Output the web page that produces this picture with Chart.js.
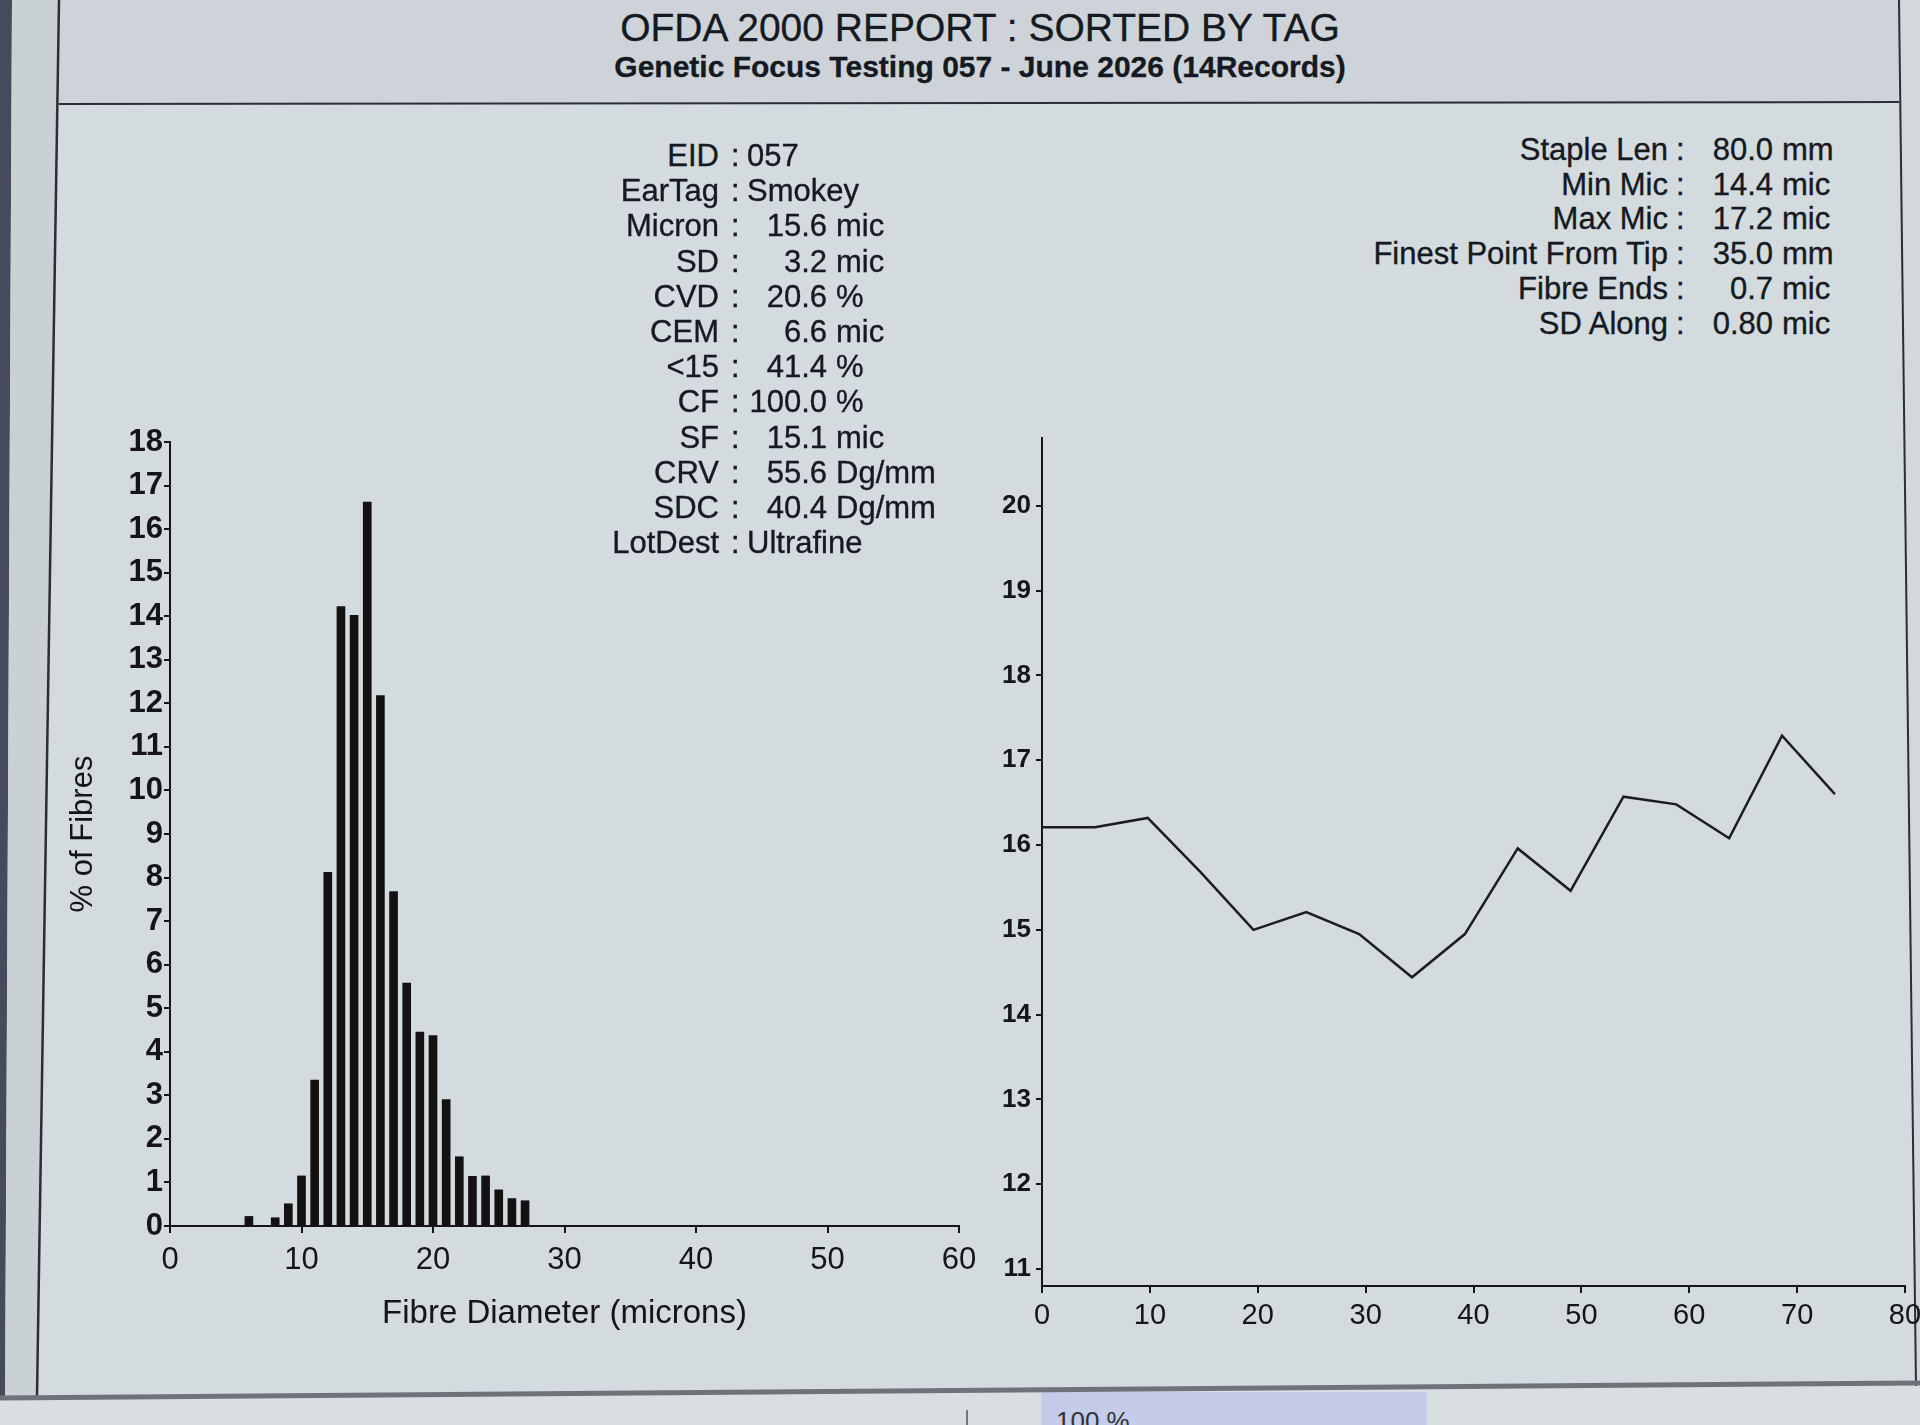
<!DOCTYPE html>
<html>
<head>
<meta charset="utf-8">
<title>OFDA 2000 Report</title>
<script src="https://cdn.jsdelivr.net/npm/chart.js@4.4.1/dist/chart.umd.min.js"></script>
<style>
    html, body { margin: 0; padding: 0; }
    body {
        width: 1920px;
        height: 1425px;
        overflow: hidden;
        position: relative;
        background: #d3dbdf;
        font-family: "Liberation Sans", Arial, sans-serif;
        color: #151920;
    }
    #frame { position: absolute; left: 0; top: 0; }
    canvas { position: absolute; }
    .title {
        position: absolute;
        left: 980px;
        transform: translateX(-50%);
        white-space: nowrap;
        line-height: 1;
        -webkit-text-stroke: 0.3px #151920;
    }
    .stat {
        position: absolute;
        font-size: 31px;
        line-height: 36px;
        height: 36px;
        white-space: nowrap;
        -webkit-text-stroke: 0.35px #151920;
    }
    .status { position: absolute; left: 1056px; top: 1406px; font-size: 26px; color: #333; }
</style>
</head>
<body>
<svg id="frame" width="1920" height="1425">
    <polygon points="59,0 1899,0 1898,103 59,104" fill="#cdd3d8"/>
    <polygon points="0,0 12,0 5,1425 0,1425" fill="#454b5d"/>
    <polygon points="12,0 59,0 37,1396 5,1397" fill="#cad1d5"/>
    <polygon points="1899,0 1920,0 1920,1384 1916,1384" fill="#d2d8dc"/>
    <polygon points="0,1398 1920,1383 1920,1425 0,1425" fill="#d9dee1"/>
    <rect x="1041" y="1392" width="386" height="33" fill="#c4cce9"/>
    <line x1="967" y1="1410" x2="967" y2="1425" stroke="#555" stroke-width="1.5"/>
    <line x1="59" y1="0" x2="37" y2="1396" stroke="#2a2e36" stroke-width="2.5"/>
    <line x1="1899" y1="0" x2="1916" y2="1386" stroke="#2a2e36" stroke-width="2"/>
    <line x1="59" y1="104" x2="1899" y2="102" stroke="#2a2e36" stroke-width="2"/>
    <line x1="0" y1="1398" x2="1920" y2="1383" stroke="#6e737b" stroke-width="5"/>
</svg>

<div class="title" style="top:8px; font-size:39px;">OFDA 2000 REPORT : SORTED BY TAG</div>
<div class="title" style="top:52px; font-size:30px; font-weight:bold;">Genetic Focus Testing 057 - June 2026 (14Records)</div>
<div class="status">100 %</div>

<canvas id="histChart" width="940" height="960" style="left:60px; top:400px;"></canvas>
<canvas id="profileChart" width="960" height="960" style="left:960px; top:400px;"></canvas>

<script>
// Histogram: % of fibres per micron class
const histMicrons = [6, 8, 9, 10, 11, 12, 13, 14, 15, 16, 17, 18, 19, 20, 21, 22, 23, 24, 25, 26, 27];
const histPercent = [0.22, 0.19, 0.51, 1.15, 3.35, 8.12, 14.22, 14.02, 16.62, 12.18, 7.68, 5.58, 4.45, 4.37, 2.90, 1.59, 1.14, 1.15, 0.83, 0.63, 0.58];
const histXTicks = [0, 10, 20, 30, 40, 50, 60];
const histYTicks = [0, 1, 2, 3, 4, 5, 6, 7, 8, 9, 10, 11, 12, 13, 14, 15, 16, 17, 18];

// Profile along the staple (mm from tip -> micron)
const profilePos = [0, 4.9, 9.8, 14.7, 19.6, 24.5, 29.4, 34.3, 39.2, 44.1, 49.0, 53.9, 58.8, 63.7, 68.6, 73.5];
const profileMic = [16.21, 16.21, 16.32, 15.68, 15.0, 15.21, 14.95, 14.44, 14.95, 15.96, 15.46, 16.57, 16.48, 16.08, 17.29, 16.6];
const profileXTicks = [0, 10, 20, 30, 40, 50, 60, 70, 80];
const profileYTicks = [11, 12, 13, 14, 15, 16, 17, 18, 19, 20];

// Stats text
const leftLabels = ["EID", "EarTag", "Micron", "SD", "CVD", "CEM", "<15", "CF", "SF", "CRV", "SDC", "LotDest"];
const leftValues = ["057", "Smokey", "15.6", "3.2", "20.6", "6.6", "41.4", "100.0", "15.1", "55.6", "40.4", "Ultrafine"];
const leftUnits = ["", "", "mic", "mic", "%", "mic", "%", "%", "mic", "Dg/mm", "Dg/mm", ""];
const rightLabels = ["Staple Len", "Min Mic", "Max Mic", "Finest Point From Tip", "Fibre Ends", "SD Along"];
const rightValues = ["80.0", "14.4", "17.2", "35.0", "0.7", "0.80"];
const rightUnits = ["mm", "mic", "mic", "mm", "mic", "mic"];

const ink = "#151515";

function addSpan(text, css) {
    const el = document.createElement("div");
    el.className = "stat";
    el.textContent = text;
    Object.assign(el.style, css);
    document.body.appendChild(el);
}

function renderStats(labels, values, units, cfg) {
    labels.forEach((label, i) => {
        const top = (cfg.firstRow + i * cfg.rowGap - 18) + "px";
        addSpan(label, { top: top, right: (1920 - cfg.labelRight) + "px" });
        addSpan(":", { top: top, left: (cfg.colonX - 4) + "px" });
        if (units[i]) {
            addSpan(values[i], { top: top, right: (1920 - cfg.numRight) + "px" });
            addSpan(units[i], { top: top, left: (cfg.numRight + 9) + "px" });
        } else {
            addSpan(values[i], { top: top, left: cfg.textLeft + "px" });
        }
    });
}

renderStats(leftLabels, leftValues, leftUnits, {
    firstRow: 156, rowGap: 35.2, labelRight: 719, colonX: 735, numRight: 827, textLeft: 747
});
renderStats(rightLabels, rightValues, rightUnits, {
    firstRow: 150, rowGap: 34.7, labelRight: 1668, colonX: 1680, numRight: 1773, textLeft: 1711
});

function fixedTicks(list) {
    return (scale) => { scale.ticks = list.map((v) => ({ value: v })); };
}
// keep axis sizes fixed so the plot area lands where the report has it
function fitX(h) {
    return (s) => { s.height = h; s.paddingLeft = 0; s.paddingRight = 0; };
}
function fitY(w) {
    return (s) => { s.width = w; s.paddingTop = 0; s.paddingBottom = 0; };
}

// Histogram
new Chart(document.getElementById("histChart").getContext("2d"), {
    type: "bar",
    data: {
        datasets: [{
            data: histMicrons.map((m, i) => ({ x: m, y: histPercent[i] })),
            backgroundColor: "#141112",
            borderWidth: 0,
            barThickness: 8,
        }]
    },
    options: {
        responsive: false,
        animation: false,
        layout: { padding: { top: 42, right: 41, left: 0, bottom: 0 } },
        plugins: { legend: { display: false }, tooltip: { enabled: false } },
        scales: {
            x: {
                type: "linear", min: 0, max: 60, offset: false,
                afterBuildTicks: fixedTicks(histXTicks),
                afterFit: fitX(134),
                grid: { drawOnChartArea: false, offset: false, tickLength: 7, color: ink, lineWidth: 2 },
                border: { display: true, color: ink, width: 2 },
                ticks: { color: ink, font: { family: "Liberation Sans", size: 31 }, padding: 9, maxRotation: 0 },
                title: {
                    display: true, text: "Fibre Diameter (microns)", color: ink,
                    font: { family: "Liberation Sans", size: 33 }, padding: { top: 0, bottom: 26 }
                }
            },
            y: {
                min: 0, max: 18,
                afterBuildTicks: fixedTicks(histYTicks),
                afterFit: fitY(110),
                grid: { drawOnChartArea: false, tickLength: 6, color: ink, lineWidth: 2 },
                border: { display: true, color: ink, width: 2 },
                ticks: { color: ink, font: { family: "Liberation Sans", size: 31, weight: "bold" }, padding: 1 },
                title: {
                    display: true, text: "% of Fibres", color: ink,
                    font: { family: "Liberation Sans", size: 31 }, padding: { top: 5, bottom: 0 }
                }
            }
        }
    }
});

// Micron profile along staple
new Chart(document.getElementById("profileChart").getContext("2d"), {
    type: "line",
    data: {
        datasets: [{
            data: profilePos.map((p, i) => ({ x: p, y: profileMic[i] })),
            borderColor: "#1b1d22",
            borderWidth: 2.5,
            pointRadius: 0,
            tension: 0,
            fill: false,
        }]
    },
    options: {
        responsive: false,
        animation: false,
        layout: { padding: { top: 38, right: 15, left: 0, bottom: 0 } },
        plugins: { legend: { display: false }, tooltip: { enabled: false } },
        scales: {
            x: {
                type: "linear", min: 0, max: 80,
                afterBuildTicks: fixedTicks(profileXTicks),
                afterFit: fitX(74),
                grid: { drawOnChartArea: false, tickLength: 7, color: ink, lineWidth: 2 },
                border: { display: true, color: ink, width: 2 },
                ticks: { color: ink, font: { family: "Liberation Sans", size: 29 }, padding: 6, maxRotation: 0 }
            },
            y: {
                type: "linear", min: 10.8, max: 20.8,
                afterBuildTicks: fixedTicks(profileYTicks),
                afterFit: fitY(82),
                grid: { drawOnChartArea: false, tickLength: 6, color: ink, lineWidth: 2 },
                border: { display: true, color: ink, width: 2 },
                ticks: { color: ink, font: { family: "Liberation Sans", size: 26, weight: "bold" }, padding: 5 }
            }
        }
    }
});
</script>
</body>
</html>
